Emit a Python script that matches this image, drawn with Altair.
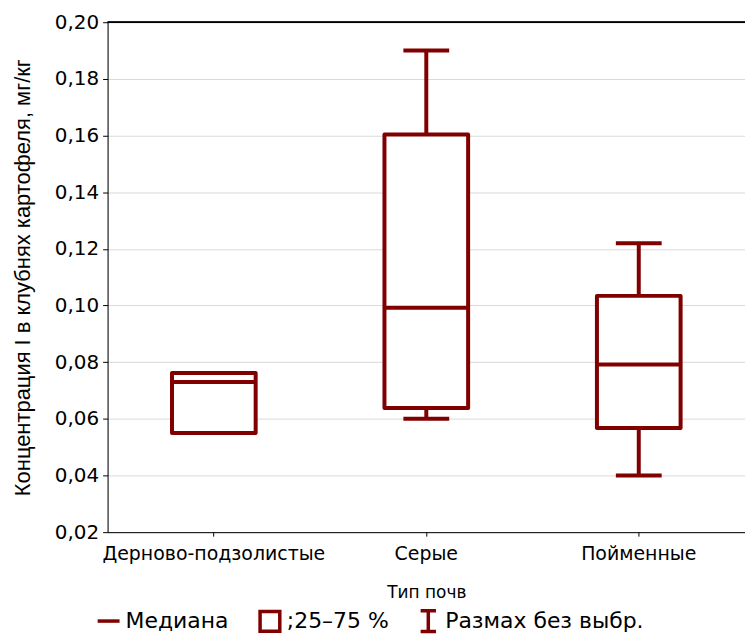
import altair as alt
import pandas as pd

DARK = "#800000"

categories = ["Дерново-подзолистые", "Серые", "Пойменные"]
mins = [0.055, 0.060, 0.040]
q1s = [0.055, 0.0638, 0.0568]
medians = [0.073, 0.0992, 0.0792]
q3s = [0.0762, 0.1604, 0.1034]
maxs = [0.0762, 0.190, 0.122]

y_ticks = [0.02, 0.04, 0.06, 0.08, 0.10, 0.12, 0.14, 0.16, 0.18, 0.20]

legend_items = ["Медиана", ";25–75 %", "Размах без выбр."]
legend_paths = [
    "M-1,0H1M0,-0.95L0,-0.95M0,0.95L0,0.95",
    "M-0.9,-0.9H0.9V0.9H-0.9Z",
    "M-0.7,-0.95H0.7M0,-0.95V0.95M-0.7,0.95H0.7",
]

df = pd.DataFrame({
    "cat": categories, "min": mins, "q1": q1s,
    "med": medians, "q3": q3s, "max": maxs,
})
leg = pd.DataFrame({"item": legend_items, "cat": [categories[0]] * 3, "y": [0.0] * 3})

W, H = 640, 512

x_enc = alt.X(
    "cat:N", sort=categories,
    scale=alt.Scale(paddingInner=0, paddingOuter=0),
    axis=alt.Axis(
        title="Тип почв", labelAngle=0, labelFont="DejaVu Sans", labelFontSize=19,
        labelColor="black", labelPadding=8, labelLimit=0, tickSize=4, tickColor="black",
        domainColor="black", grid=False, titleFont="DejaVu Sans", titleFontSize=17,
        titleFontWeight="normal", titleColor="black", titlePadding=22,
    ),
)
y_scale = alt.Scale(domain=[0.02, 0.20], nice=False, zero=False)
y_axis = alt.Axis(
    values=y_ticks, labelExpr="replace(format(datum.value, '.2f'), '.', ',')",
    labelFont="DejaVu Sans", labelFontSize=20, labelColor="black", labelPadding=4,
    tickSize=5, tickColor="black", domainColor="black", grid=True,
    gridColor="#d9d9d9", gridWidth=1,
    title="Концентрация I в клубнях картофеля, мг/кг", titleFont="Liberation Sans",
    titleFontSize=22, titleFontWeight="normal", titleColor="black", titlePadding=20,
)

base = alt.Chart(df)

frame_top = base.mark_rule(color="black", strokeWidth=1.5).encode(
    x=alt.value(0), x2=alt.value(W), y=alt.value(0)
)

whisk_hi = base.mark_rule(color=DARK, strokeWidth=4).encode(
    x=x_enc, y=alt.Y("max:Q", scale=y_scale, axis=y_axis), y2="q3:Q"
)
whisk_lo = base.mark_rule(color=DARK, strokeWidth=4).encode(
    x=x_enc, y=alt.Y("q1:Q", scale=y_scale, axis=y_axis), y2="min:Q"
)
cap_hi = base.mark_tick(color=DARK, opacity=1, size=46, thickness=4, strokeCap="round").encode(
    x=x_enc, y=alt.Y("max:Q", scale=y_scale, axis=y_axis)
)
cap_lo = base.mark_tick(color=DARK, opacity=1, size=46, thickness=4, strokeCap="round").encode(
    x=x_enc, y=alt.Y("min:Q", scale=y_scale, axis=y_axis)
)
boxes = base.mark_bar(
    size=84, fill="white", stroke=DARK, strokeWidth=4, strokeJoin="round"
).encode(x=x_enc, y=alt.Y("q1:Q", scale=y_scale, axis=y_axis), y2="q3:Q")
med = base.mark_tick(color=DARK, opacity=1, size=86, thickness=4).encode(
    x=x_enc, y=alt.Y("med:Q", scale=y_scale, axis=y_axis)
)

legend_layer = alt.Chart(leg).mark_point(
    clip=True, filled=False, color=DARK, strokeWidth=3.5, size=400
).encode(
    x=x_enc,
    y=alt.Y("y:Q", scale=y_scale, axis=y_axis),
    shape=alt.Shape(
        "item:N",
        scale=alt.Scale(domain=legend_items, range=legend_paths),
        legend=alt.Legend(
            title=None, orient="none", direction="horizontal",
            legendX=-12, legendY=588, labelFont="DejaVu Sans",
            labelFontSize=22, labelColor="black", labelLimit=0, symbolSize=484,
            symbolStrokeWidth=3.5, symbolStrokeColor=DARK, symbolOpacity=1,
            symbolFillColor="transparent", labelPadding=6, columnPadding=24,
        ),
    ),
)

chart = alt.layer(
    frame_top, whisk_hi, whisk_lo, cap_hi, cap_lo, boxes, med, legend_layer
).properties(
    width=W, height=H,
    autosize=alt.AutoSizeParams(type="none"),
    padding={"left": 100, "top": 13, "right": 0, "bottom": 104},
).configure_view(stroke=None).configure(background="white")

chart.save("out.html", embed_options={"renderer": "svg", "actions": False})
